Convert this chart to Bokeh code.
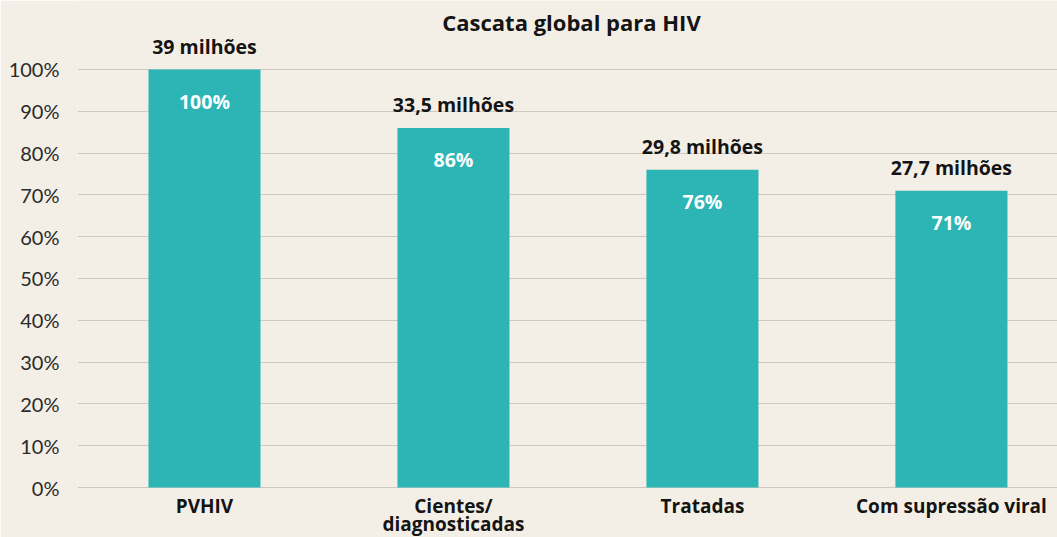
from bokeh.plotting import figure
from bokeh.models import ColumnDataSource, FixedTicker, PrintfTickFormatter, Range1d, Label
from bokeh.core.properties import value
from bokeh.embed import file_html
from bokeh.resources import INLINE

categories = ["PVHIV", "Cientes/\ndiagnosticadas", "Tratadas", "Com supressão viral"]
percent = [100, 86, 76, 71]
people = ["39 milhões", "33,5 milhões", "29,8 milhões", "27,7 milhões"]
title_text = "Cascata global para HIV"
y_ticks = [0, 10, 20, 30, 40, 50, 60, 70, 80, 90, 100]

BG = "#F4EFE6"
BAR = "#2CB5B4"
GRID = "#CFCAC1"
INK = "#141414"
BOLD_FONT = "Open Sans"

xs = list(range(len(categories)))
src = ColumnDataSource(dict(
    x=xs,
    zero=[0] * len(xs),
    cat=categories,
    pct=percent,
    pct_label=[f"{v}%" for v in percent],
    people=people,
))

p = figure(width=1057, height=537, output_backend="svg", toolbar_location=None,
           x_range=Range1d(-0.51, 3.426), y_range=Range1d(-11.96, 116.5),
           min_border_left=77, min_border_right=0, min_border_top=0, min_border_bottom=0,
           background_fill_color=BG, border_fill_color=BG, outline_line_color=None)

p.vbar(x="x", top="pct", bottom=0, width=0.45, source=src, fill_color=BAR, line_color=None)

p.text(x="x", y="pct", text="pct_label", source=src, text_align="center", text_baseline="middle",
       y_offset=32, text_color="white", text_font=value(BOLD_FONT), text_font_style="bold",
       text_font_size="19.5px")
p.text(x="x", y="pct", text="people", source=src, text_align="center", text_baseline="middle",
       y_offset=-23, text_color=INK, text_font=value(BOLD_FONT), text_font_style="bold",
       text_font_size="19.5px")
# category labels below the bars
p.text(x="x", y="zero", text="cat", source=src, text_align="center", text_baseline="top",
       y_offset=5, text_color=INK, text_font=value(BOLD_FONT), text_font_style="bold",
       text_font_size="19px", text_line_height=0.72)

p.add_layout(Label(x=1.474, y=111.24, text=title_text, text_align="center", text_baseline="middle",
                   text_color=INK, text_font=BOLD_FONT, text_font_style="bold",
                   text_font_size="22px"))

p.xaxis.visible = False

p.yaxis.ticker = FixedTicker(ticks=y_ticks)
p.yaxis.formatter = PrintfTickFormatter(format="%d%%")
p.yaxis.axis_line_color = None
p.yaxis.major_tick_line_color = None
p.yaxis.minor_tick_line_color = None
p.yaxis.major_tick_out = 0
p.yaxis.major_tick_in = 0
p.yaxis.major_label_standoff = 18
p.yaxis.major_label_text_font = "Lato"
p.yaxis.major_label_text_font_size = "20px"
p.yaxis.major_label_text_color = "#2a2a2a"

p.xgrid.grid_line_color = None
p.ygrid.ticker = FixedTicker(ticks=y_ticks)
p.ygrid.grid_line_color = GRID
p.ygrid.grid_line_width = 1

open("out.html", "w").write(file_html(p, INLINE))
